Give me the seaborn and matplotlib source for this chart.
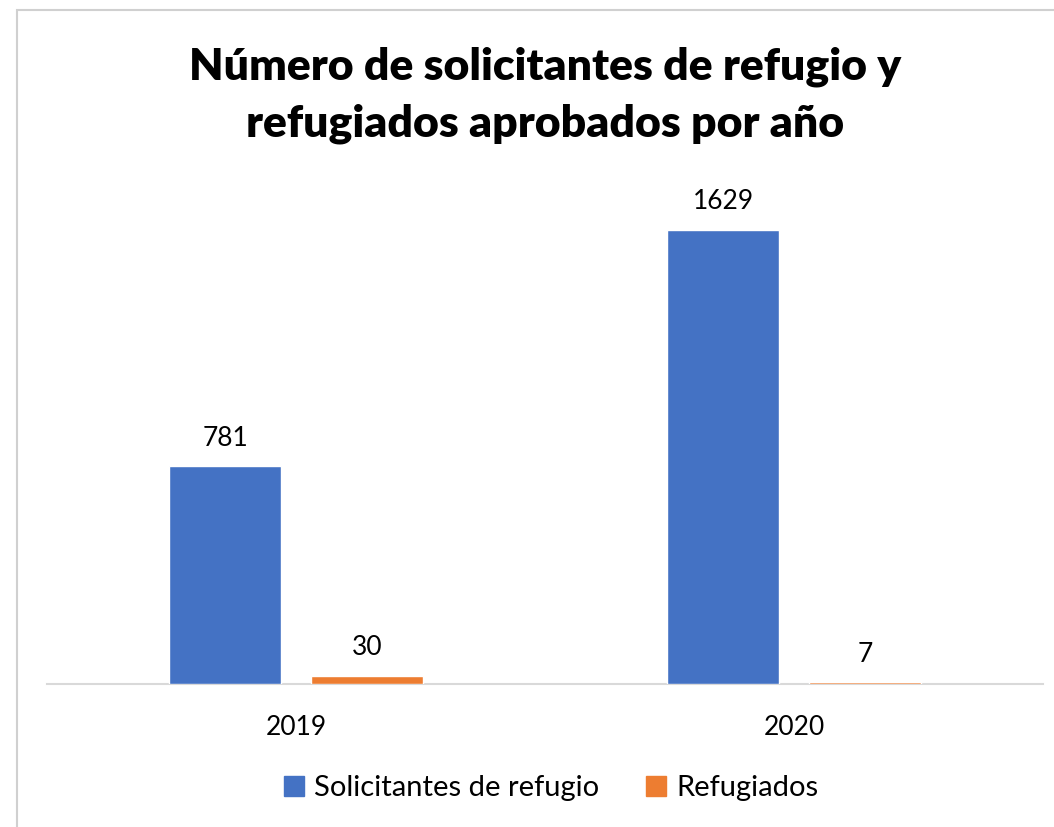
import matplotlib.pyplot as plt
import matplotlib.patches as mpatches
import seaborn as sns
import pandas as pd

# Datos
anios = ["2019", "2020"]
solicitantes = [781, 1629]
refugiados = [30, 7]
series = ["Solicitantes de refugio", "Refugiados"]
colores = ["#4472C4", "#ED7D31"]

df = pd.DataFrame({
    "Año": anios * 2,
    "Serie": [series[0]] * 2 + [series[1]] * 2,
    "Valor": solicitantes + refugiados,
})

sns.set_style("white")
plt.rcParams["font.family"] = ["Lato", "DejaVu Sans"]

fig = plt.figure(figsize=(10.54, 8.27), dpi=100)
ax = fig.add_axes([47 / 1054, 143 / 827, 996 / 1054, 502 / 827])

sns.barplot(data=df, x="Año", y="Valor", hue="Serie", palette=colores,
            width=0.57, gap=0.21, ax=ax, legend=False, saturation=1, zorder=3)

for cont in ax.containers:
    ax.bar_label(cont, padding=11, fontsize=19, color="black")

ax.set_ylim(0, 1800)
ax.set_xlim(-0.5, 1.5)
ax.set_xlabel("")
ax.set_ylabel("")
ax.set_yticks([])
ax.tick_params(axis="x", length=0, pad=22, labelsize=19, labelcolor="black")
for s in ["top", "right", "left"]:
    ax.spines[s].set_visible(False)
ax.spines["bottom"].set_color("#D9D9D9")
ax.spines["bottom"].set_linewidth(1.5)
ax.spines["bottom"].set_zorder(1)

fig.text(0.517, 0.885, "Número de solicitantes de refugio y\nrefugiados aprobados por año",
         ha="center", va="center", fontsize=32, fontweight="heavy", color="black",
         linespacing=1.5)

handles = [mpatches.Patch(color=c, label=s) for c, s in zip(colores, series)]
fig.legend(handles=handles, loc="center", bbox_to_anchor=(0.523, 0.047), ncol=2,
           frameon=False, fontsize=21, handlelength=0.7, handleheight=0.7,
           handletextpad=0.35, columnspacing=1.6, labelcolor="black")

# Borde del gráfico
fig.patches.append(mpatches.Rectangle((17 / 1054, -0.1), 1.2, 1.1 - 10 / 827,
                                      transform=fig.transFigure, fill=False,
                                      edgecolor="#D0D0D0", linewidth=1.5))

fig.savefig("out.png", dpi=100)
